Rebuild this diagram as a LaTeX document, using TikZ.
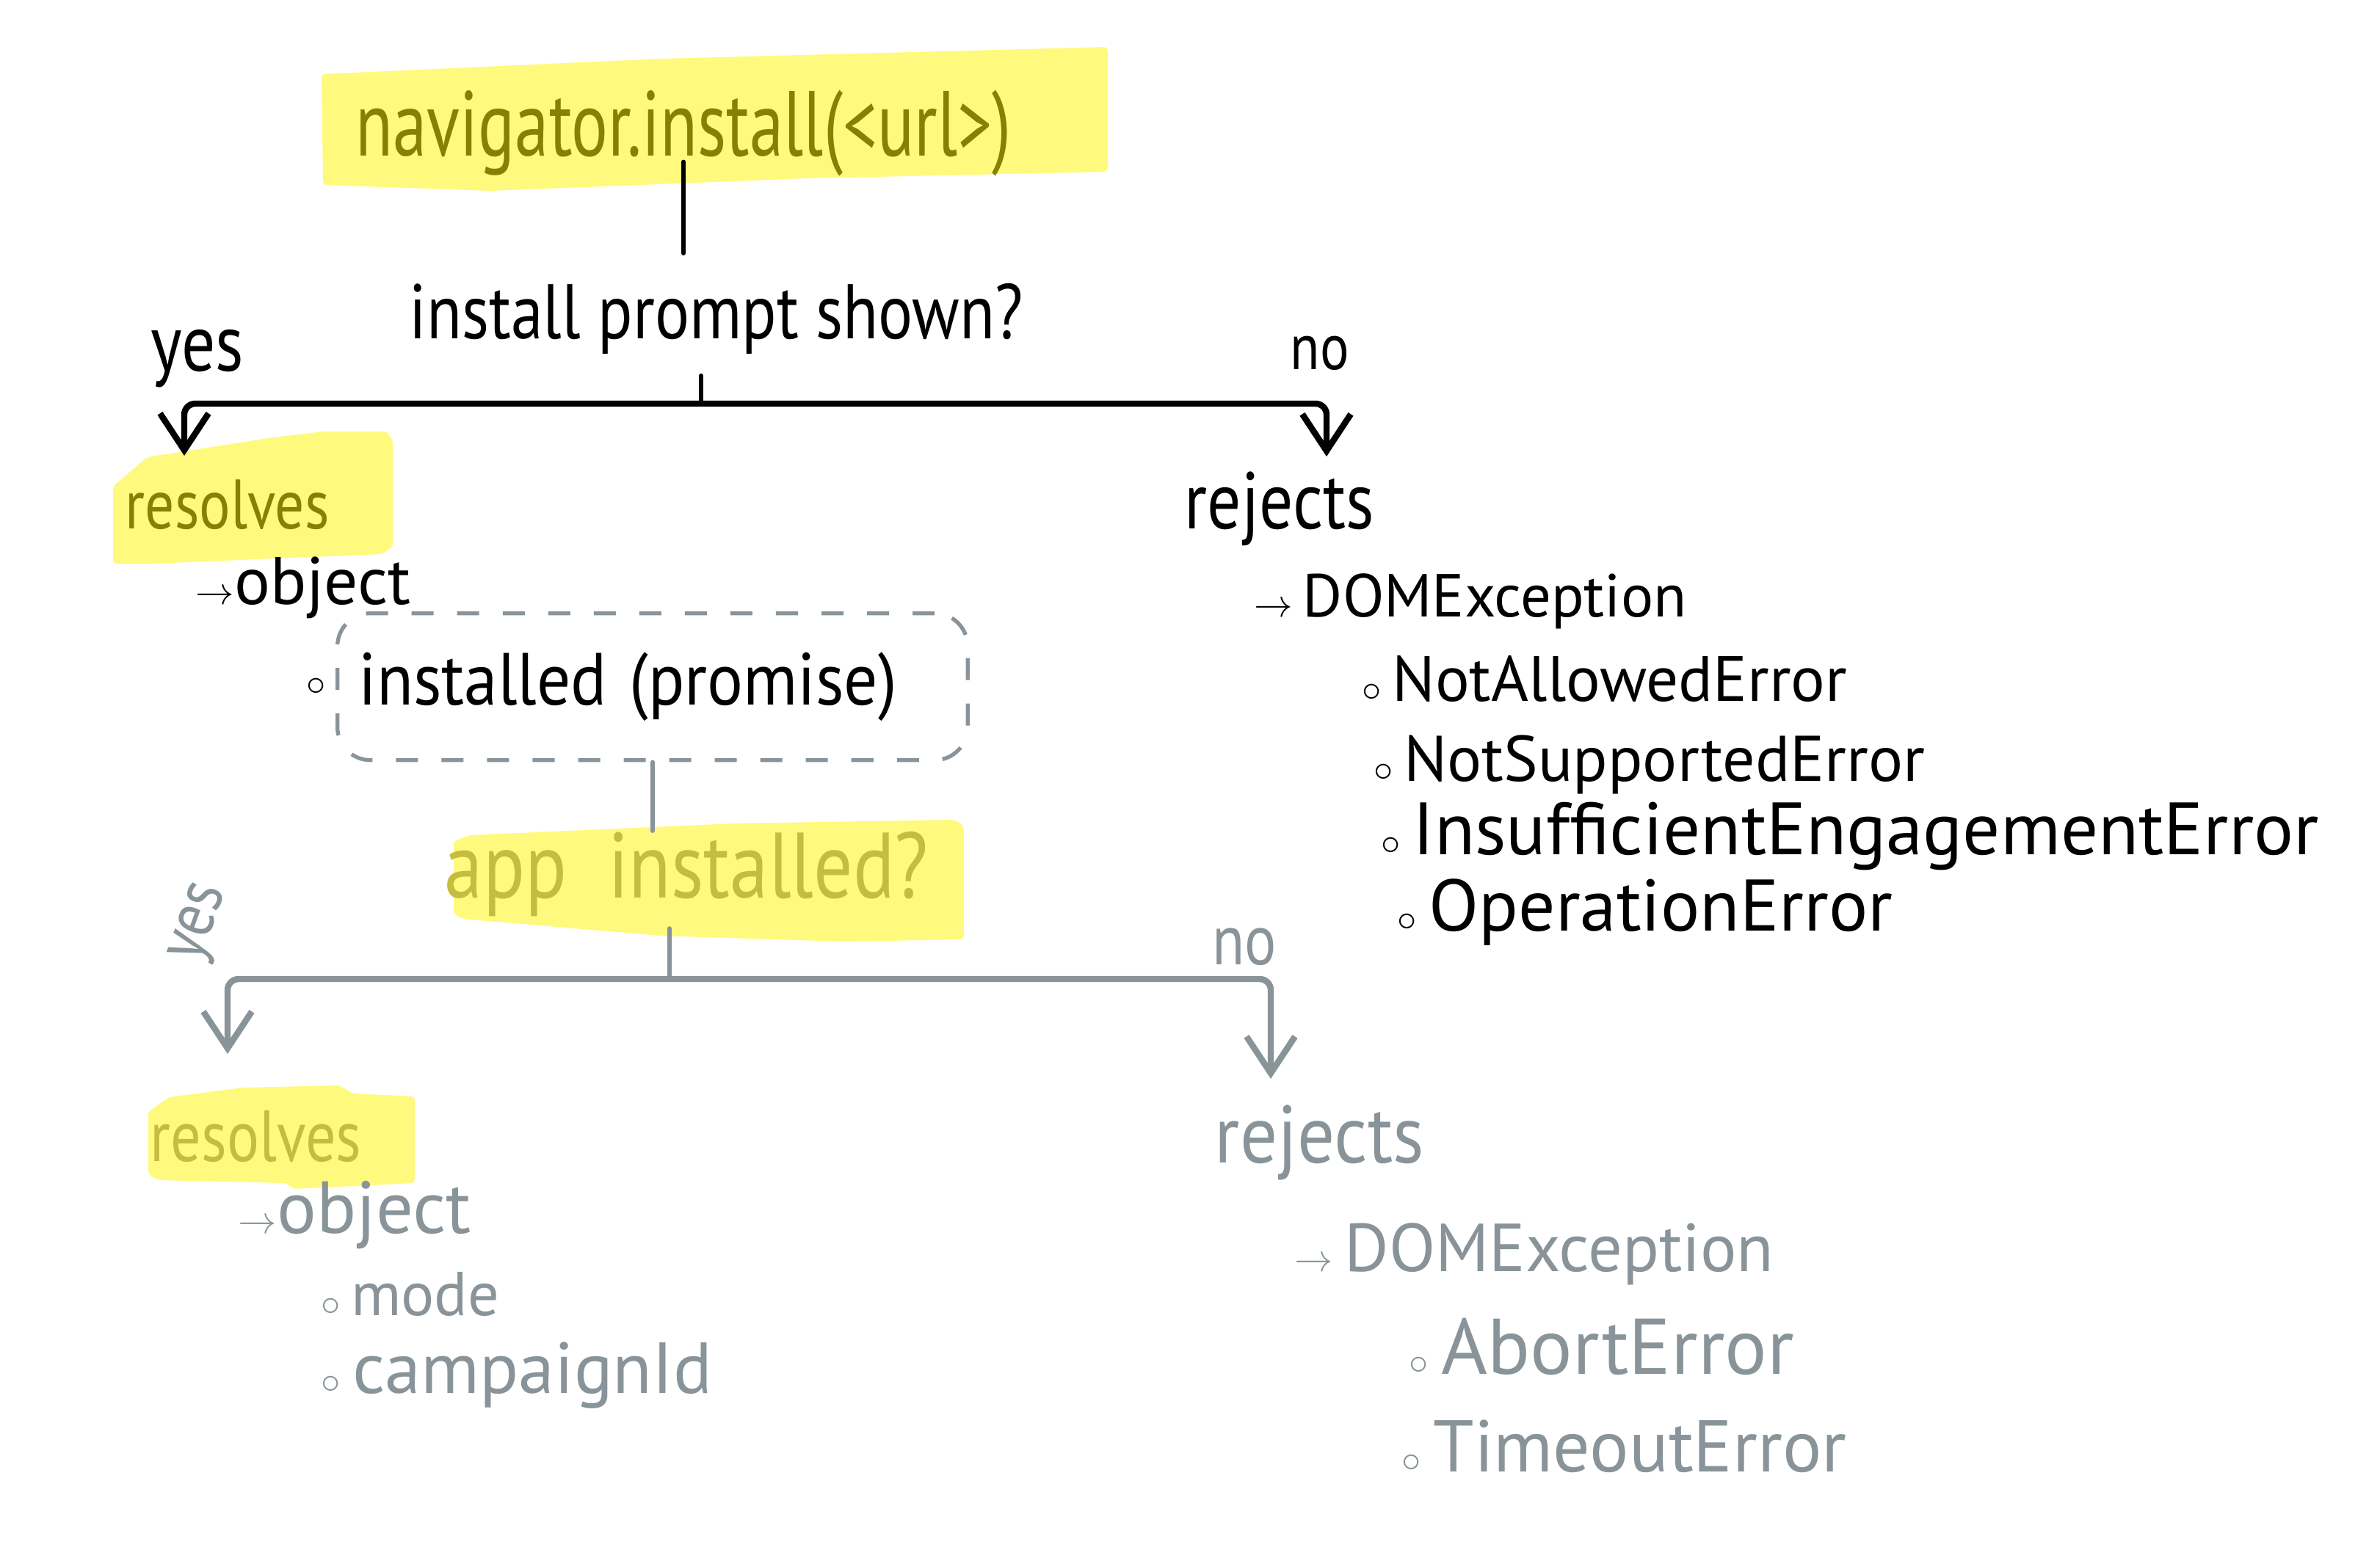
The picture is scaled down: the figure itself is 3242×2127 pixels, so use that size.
\documentclass[tikz,border=0pt]{standalone}
\usepackage{fontspec}
\setmainfont{PT Sans}
\usepackage{graphicx}
\usetikzlibrary{arrows.meta,positioning}

\definecolor{hilite}{RGB}{255,250,125}
\definecolor{olivetext}{RGB}{136,128,0}
\definecolor{paleolive}{RGB}{196,190,64}
\definecolor{slate}{RGB}{136,148,153}

\newcommand{\hand}[2][1.2]{\scalebox{1}[#1]{#2}}
\newcommand{\hto}{\scalebox{0.6}{$\rightarrow$}}
\newcommand{\hbul}{\scalebox{0.6}{$\circ$}}

\tikzset{
  hw/.style={font=\fontsize{#1}{#1}\selectfont, inner sep=0pt, anchor=base west},
  stem/.style={line width=1.6pt, line cap=round},
  bar/.style={line width=2.4pt, line cap=round, line join=round, rounded corners=0.15cm,
    {Straight Barb[length=0.5cm,width=0.66cm]}-{Straight Barb[length=0.5cm,width=0.66cm]}},
  promisebox/.style={draw=slate, line width=1.5pt, dash pattern=on 0.3cm off 0.32cm,
    rounded corners=0.45cm, inner xsep=0.29cm, inner ysep=0pt, anchor=north west,
    minimum width=8.58cm, minimum height=2.0cm, text width=8.0cm, align=left}
}

\begin{document}
\begin{tikzpicture}[x=0.01cm, y=-0.01cm]
\useasboundingbox (0,0) rectangle (3242,2127);

% marker highlights
\fill[hilite, rounded corners=0.05cm] (438,101) -- (900,80) -- (1509,64) -- (1509,234) -- (1100,243) -- (668,260) -- (440,252) -- cycle;
\fill[hilite, rounded corners=0.05cm] (154,663) -- (200,623) -- (365,597) -- (440,588) -- (527,588) -- (535,600) -- (535,745) -- (520,755) -- (350,762) -- (210,768) -- (154,768) -- cycle;
\fill[hilite, rounded corners=0.05cm] (618,1146) -- (640,1138) -- (1000,1122) -- (1300,1117) -- (1313,1125) -- (1313,1280) -- (1150,1283) -- (900,1275) -- (630,1252) -- (618,1245) -- cycle;
\fill[hilite, rounded corners=0.05cm] (202,1515) -- (230,1495) -- (330,1482) -- (463,1479) -- (480,1490) -- (565,1494) -- (565,1612) -- (400,1620) -- (390,1612) -- (215,1608) -- (202,1600) -- cycle;

% first call
\node[hw=26.5, text=olivetext] (nav) at (484,212) {\hand[1.35]{navigator.install(<url>)}};
\node[hw=25] (prompt) at (557,461) {\hand{install prompt shown?}};
\node[hw=26] (yesA) at (205,505) {\hand{yes}};
\node[hw=21] (noA) at (1757,503) {\hand{no}};
\node[hw=22.6, text=olivetext] (resA) at (170,720) {\hand{resolves}};
\node[hw=26] (objA) at (266,823) {\hto object};
\node[promisebox, font=\fontsize{26}{26}\selectfont] (instbox) at (457,833) {\hand[1.1]{installed (promise)}};
\node[hw=26, anchor=east, left=0.13cm of instbox] (bulInst) {\hbul};

\node[hw=26] (rejA) at (1613,720) {\hand{rejects}};
\node[hw=23.5] (domA) at (1708,840) {\hto\,DOMException};
\node[hw=24.8] (errA1) at (1855,955) {\hbul\,NotAllowedError};
\node[hw=25] (errA2) at (1871,1064) {\hbul\,NotSupportedError};
\node[hw=28.7] (errA3) at (1881,1164) {\hbul\,InsufficientEngagementError};
\node[hw=28.3] (errA4) at (1903,1268) {\hbul\,OperationError};

% second step
\node[hw=30, text=paleolive] (appq) at (605,1223) {\hand{app\ \ installed?}};
\node[hw=22, text=slate, anchor=center, rotate=70] (yesB) at (275,1259) {\hand{yes}};
\node[hw=23, text=slate, anchor=center] (noB) at (1695,1290) {\hand{no}};
\node[hw=23.4, text=paleolive] (resB) at (204,1582) {\hand{resolves}};
\node[hw=28.6, text=slate] (objB) at (324,1680) {\hto object};
\node[hw=24, text=slate] (modeB) at (437,1792) {\hbul\,mode};
\node[hw=28, text=slate] (campB) at (437,1898) {\hbul\,campaignId};

\node[hw=28.7, text=slate] (rejB) at (1654,1584) {\hand[1.1]{rejects}};
\node[hw=26.3, text=slate] (domB) at (1763,1732) {\hto\,DOMException};
\node[hw=30.6, text=slate] (errB1) at (1919,1872) {\hbul\,AbortError};
\node[hw=28.4, text=slate] (errB2) at (1909,2005) {\hbul\,TimeoutError};

% connectors
\coordinate (splitA) at (955,550);
\coordinate (tipYesA) at (251,621);
\coordinate (tipNoA) at (1807,622);
\coordinate (splitB) at (912,1334);
\coordinate (tipYesB) at (310,1436);
\coordinate (tipNoB) at (1731,1470);

\draw[stem, shorten <=-0.2cm, shorten >=0.4cm] (nav.south) -- (nav.south |- prompt.north);
\draw[stem] (prompt.south -| splitA) ++(0,29) -- (splitA);
\draw[bar] (tipYesA) |- (splitA) -| (tipNoA);

\draw[stem, slate] (instbox.south) -- (instbox.south |- appq.north);
\draw[stem, slate] (splitB |- appq.south) ++(0,16) -- (splitB);
\draw[bar, slate] (tipYesB) |- (splitB) -| (tipNoB);
\end{tikzpicture}
\end{document}
